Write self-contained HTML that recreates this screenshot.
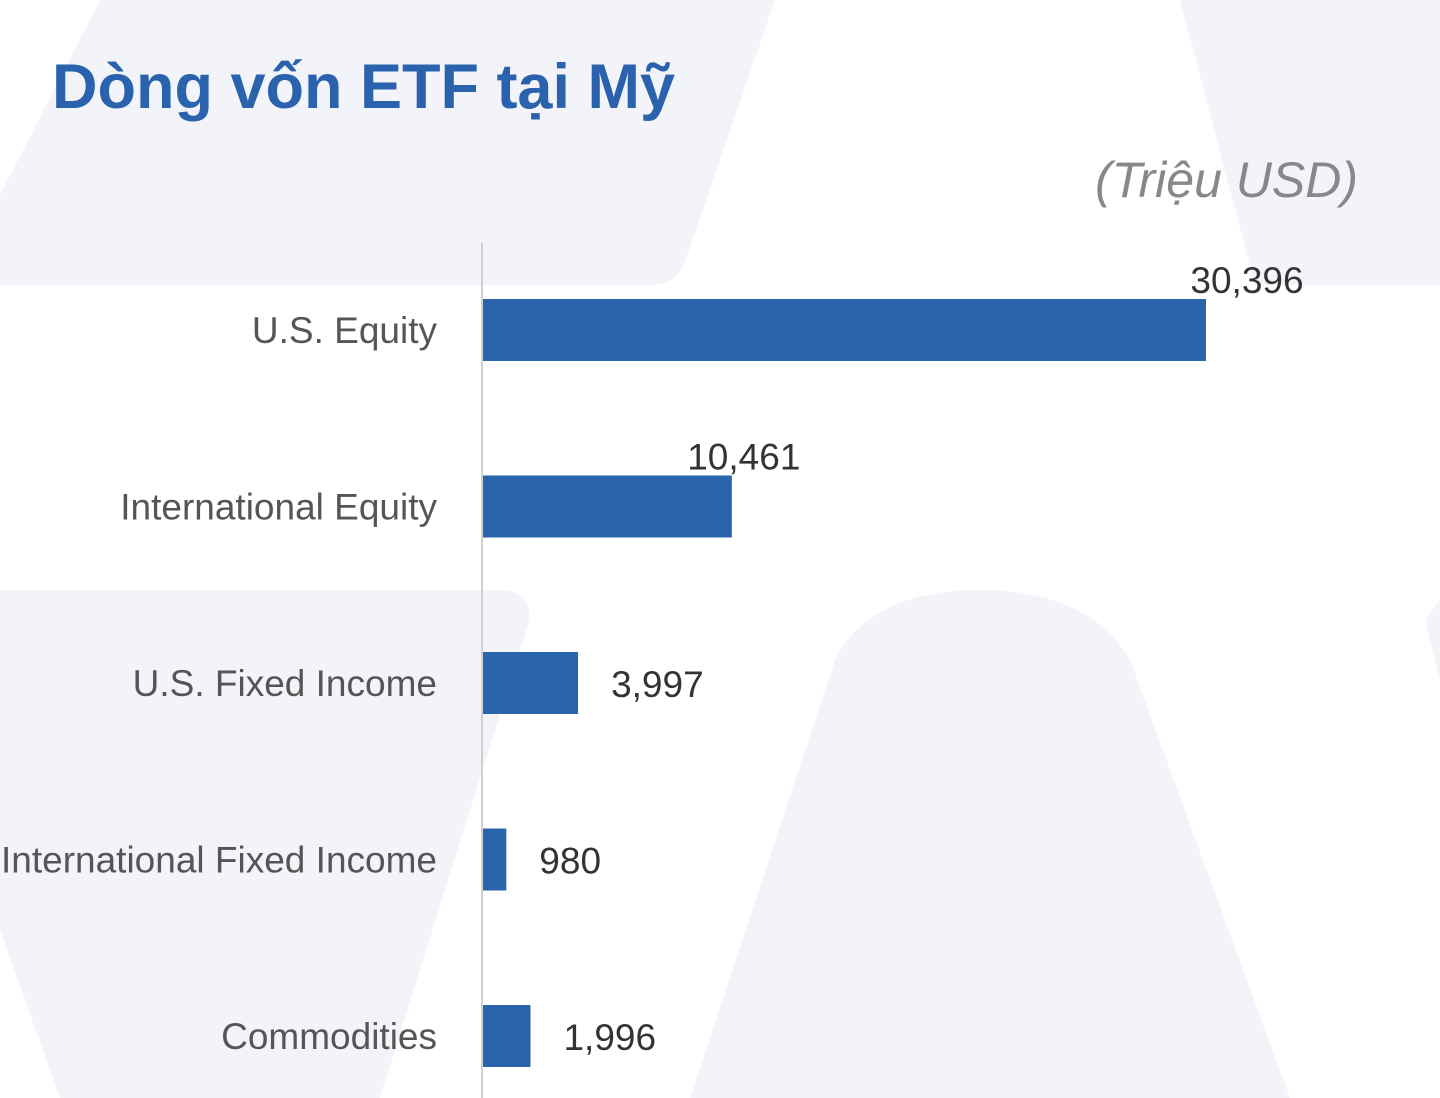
<!DOCTYPE html>
<html><head><meta charset="utf-8"><style>
body{margin:0;width:1440px;height:1098px;overflow:hidden;background:#fff;font-family:"Liberation Sans","Noto Sans CJK SC",sans-serif;}
svg{display:block}
</style></head><body>
<svg id="chart" width="1440" height="1098" viewBox="0 0 1440 1098">
<g fill="#f3f4f9">
<path d="M100,0 L775,0 L685,262 Q676,285 650,285 L0,285 L0,195 Z"/>
<path d="M1180,0 L1440,0 L1440,285 L1255,285 Z"/>
<path d="M0,590 L500,590 Q535,592 528,625 L380,1098 L60,1098 L0,930 Z"/>
<path d="M690,1098 L835,660 Q870,590 980,590 Q1090,590 1130,660 L1290,1098 Z"/>
<path d="M1440,600 L1425,620 L1440,680 Z"/>
</g>
<text x="52" y="108" font-size="63" font-weight="bold" fill="#2a62ad">Dòng vốn ETF tại Mỹ</text>
<text x="1358" y="197" font-size="50" font-style="italic" fill="#888" text-anchor="end">(Triệu USD)</text>
<line x1="482" y1="243" x2="482" y2="1098" stroke="#d0d0d0" stroke-width="2"/>
<g id="bars"></g>
</svg>
<script>
const categories=["U.S. Equity","International Equity","U.S. Fixed Income","International Fixed Income","Commodities"];
const values=[30396,10461,3997,980,1996];
const valueLabels=["30,396","10,461","3,997","980","1,996"];
const labelAbove=[true,true,false,false,false];
const labelDx=[41,12,0,0,0];
const x0=483,scale=723/30396;
const xs=v=>x0+v*scale;
const yc=i=>330+i*176.5;
const g=document.getElementById('bars');
const NS="http://www.w3.org/2000/svg";
categories.forEach((c,i)=>{
 const r=document.createElementNS(NS,'rect');
 r.setAttribute('x',x0);r.setAttribute('y',yc(i)-31);
 r.setAttribute('width',xs(values[i])-x0);r.setAttribute('height',62);
 r.setAttribute('fill','#2a64ab');
 
 
 g.appendChild(r);
 const t=document.createElementNS(NS,'text');
 t.setAttribute('x',437);t.setAttribute('y',yc(i)+13);
 t.setAttribute('text-anchor','end');t.setAttribute('font-size','37');t.setAttribute('fill','#555');
 t.textContent=c;
 
 
 g.appendChild(t);
 const v=document.createElementNS(NS,'text');
 if(labelAbove[i]){v.setAttribute('x',xs(values[i])+labelDx[i]);v.setAttribute('y',yc(i)-37);v.setAttribute('text-anchor','middle');}
 else{v.setAttribute('x',xs(values[i])+33);v.setAttribute('y',yc(i)+14);}
 v.setAttribute('font-size','37');v.setAttribute('fill','#333');
 v.textContent=valueLabels[i];
 
 
 g.appendChild(v);
});
</script>
</body></html>
